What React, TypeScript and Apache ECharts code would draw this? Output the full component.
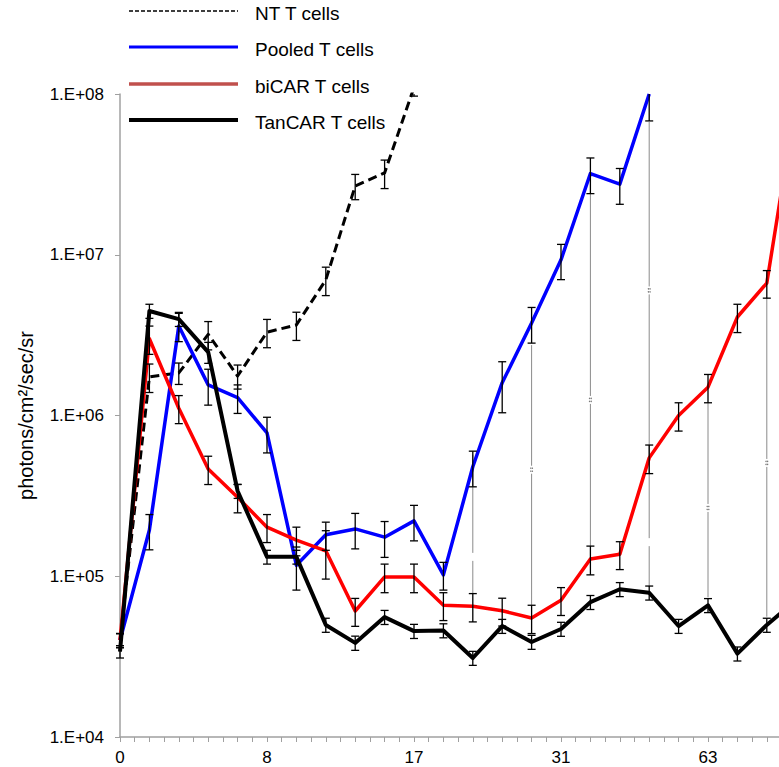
import React, { useEffect, useRef } from 'react';
import * as echarts from 'echarts';

// x positions are measurement indices; only every 5th one carries a day label
const dayLabels = ['0', '8', '17', '31', '63'];

const ntValues = [4.0e4, 1.74e6, 1.84e6, 3.2e6, 1.76e6, 3.3e6, 3.66e6, 6.97e6, 2.68e7, 3.23e7, 1.1e8];
const ntSD = [4e3, 3.5e5, 2.8e5, 6.4e5, 3.0e5, 6.6e5, 7.3e5, 1.4e6, 4.8e6, 6.5e6, 1.3e7];

const pooledValues = [4.0e4, 1.94e5, 3.6e6, 1.55e6, 1.29e6, 7.8e5, 1.17e5, 1.81e5, 1.97e5, 1.75e5, 2.21e5, 1.02e5, 4.8e5, 1.6e6, 3.76e6, 9.3e6, 3.2e7, 2.75e7, 1.0e8];
const pooledSD = [4e3, 4.8e4, 7.2e5, 3.9e5, 2.6e5, 1.95e5, 3.5e4, 3.6e4, 4.9e4, 4.4e4, 5.5e4, 2.0e4, 1.2e5, 5.6e5, 9.4e5, 2.3e6, 8.0e6, 6.9e6, 3.2e7];

const bicarValues = [4.0e4, 3.0e6, 1.11e6, 4.65e5, 3.1e5, 2.02e5, 1.68e5, 1.44e5, 6.08e4, 9.9e4, 9.9e4, 6.6e4, 6.5e4, 6.1e4, 5.5e4, 7.1e4, 1.28e5, 1.37e5, 5.45e5, 1.0e6, 1.5e6, 4.1e6, 6.67e6, 9.3e7];
const bicarSD = [4e3, 6.0e5, 2.2e5, 9.3e4, 6.2e4, 4.0e4, 3.4e4, 4.8e4, 1.2e4, 2.0e4, 2.0e4, 1.3e4, 1.3e4, 1.2e4, 1.1e4, 1.4e4, 2.6e4, 2.7e4, 1.1e5, 2.0e5, 3.0e5, 8.2e5, 1.3e6, 1.9e7];

const tancarValues = [3.4e4, 4.47e6, 3.98e6, 2.48e6, 3.39e5, 1.32e5, 1.32e5, 4.98e4, 3.85e4, 5.57e4, 4.56e4, 4.6e4, 3.1e4, 4.9e4, 3.9e4, 4.7e4, 6.9e4, 8.3e4, 7.9e4, 4.9e4, 6.6e4, 3.3e4, 4.98e4, 7.1e4];
const tancarSD = [3e3, 4.5e5, 4.0e5, 3.7e5, 3.4e4, 1.3e4, 1.3e4, 5e3, 3.9e3, 5.6e3, 4.6e3, 4.6e3, 3.1e3, 4.9e3, 3.9e3, 4.7e3, 6.9e3, 8.3e3, 7.9e3, 4.9e3, 6.6e3, 3.3e3, 5e3, 7e3];

// significance connectors (gray) and their markers
const sigX = [12, 14, 16, 18, 20, 22];
const sigTop = [5.7e5, 2.74e6, 2.42e7, 6.7e7, 1.2e6, 5.4e6];
const sigBottom = [7.8e4, 6.6e4, 1.52e5, 8.6e4, 7.4e4, 5.6e4];
const markX = [12, 14, 16, 18, 18, 20, 22];
const markY = [1.32e5, 4.6e5, 1.25e6, 6.0e6, 1.63e5, 2.66e5, 5.07e5];

const legendItems = ['NT T cells', 'Pooled T cells', 'biCAR T cells', 'TanCAR T cells'];

const FONT = '"Liberation Sans", Arial, sans-serif';

function errSeries(name: string, vals: number[], sds: number[]) {
  return {
    type: 'custom',
    name,
    z: 5,
    silent: true,
    data: vals.map((v, i) => [i, v, sds[i]]),
    encode: { x: 0, y: 1 },
    renderItem: (params: any, api: any) => {
      const x = api.value(0);
      const v = api.value(1);
      const sd = api.value(2);
      const cs = params.coordSys;
      const yMin = cs.y;
      const yMax = cs.y + cs.height;
      const top = api.coord([x, v + sd]);
      const lo = v - sd > 0 ? v - sd : v / 100;
      const bot = api.coord([x, lo]);
      const children: any[] = [];
      const y1 = Math.max(top[1], yMin);
      const y2 = Math.min(bot[1], yMax);
      const st = { stroke: '#000', lineWidth: 1.3 };
      if (y2 > y1) {
        children.push({ type: 'line', shape: { x1: top[0], y1, x2: top[0], y2 }, style: st });
      }
      const hw = 4;
      if (top[1] >= yMin && top[1] <= yMax) {
        children.push({ type: 'line', shape: { x1: top[0] - hw, y1: top[1], x2: top[0] + hw, y2: top[1] }, style: st });
      }
      if (bot[1] >= yMin && bot[1] <= yMax) {
        children.push({ type: 'line', shape: { x1: bot[0] - hw, y1: bot[1], x2: bot[0] + hw, y2: bot[1] }, style: st });
      }
      return { type: 'group', children };
    },
  };
}

function lineSeries(name: string, vals: number[], color: string, width: number, dash?: number[]) {
  return {
    type: 'line',
    name,
    z: 3,
    data: vals.map((v, i) => [i, v]),
    showSymbol: false,
    symbol: 'none',
    lineStyle: { color, width, type: dash ? dash : 'solid', join: 'round' },
    clip: true,
  };
}

export default function App() {
  const ref = useRef<HTMLDivElement>(null);
  useEffect(() => {
    document.body.style.margin = '0';
    document.body.style.overflow = 'hidden';
    const chart = echarts.init(ref.current!, null, { renderer: 'svg' });

    const legendY = [11, 47, 84, 120];
    const legendStyles = [
      { stroke: '#000', lineWidth: 1.5, lineDash: [4, 2] },
      { stroke: '#0000ff', lineWidth: 3 },
      { stroke: '#c0504d', lineWidth: 3.5 },
      { stroke: '#000', lineWidth: 4 },
    ];
    const graphics: any[] = [];
    legendItems.forEach((label, i) => {
      graphics.push({
        type: 'line',
        shape: { x1: 129, y1: legendY[i], x2: 238, y2: legendY[i] },
        style: legendStyles[i],
        z: 10,
      });
      graphics.push({
        type: 'text',
        x: 255,
        y: legendY[i] + 2,
        style: { text: label, fill: '#000', font: `19px ${FONT}`, textVerticalAlign: 'middle' },
        z: 10,
      });
    });

    const option: any = {
      animation: false,
      backgroundColor: '#fff',
      grid: { left: 120, top: 94, bottom: 30, width: 705.6, containLabel: false, outerBoundsMode: 'none' },
      xAxis: {
        type: 'value',
        min: 0,
        max: 24,
        interval: 0.5,
        axisLine: { show: true, lineStyle: { color: '#a0a0a0', width: 1.5 } },
        axisTick: { show: true, length: 5, inside: false, lineStyle: { color: '#a0a0a0', width: 1 } },
        splitLine: { show: false },
        axisLabel: {
          margin: 12,
          color: '#000',
          fontSize: 17,
          fontFamily: FONT,
          showMinLabel: true,
          showMaxLabel: false,
          formatter: (v: number) => {
            const k = Math.round(v / 5);
            if (Math.abs(v - k * 5) < 1e-6 && dayLabels[k] !== undefined) return dayLabels[k];
            return '';
          },
        },
      },
      yAxis: {
        type: 'log',
        logBase: 10,
        min: 1e4,
        max: 1e8,
        name: 'photons/cm²/sec/sr',
        nameLocation: 'middle',
        nameRotate: 90,
        nameGap: 84,
        nameTextStyle: { color: '#000', fontSize: 20, fontFamily: FONT },
        axisLine: { show: true, lineStyle: { color: '#a0a0a0', width: 1.5 } },
        axisTick: { show: true, length: 5, lineStyle: { color: '#a0a0a0', width: 1 } },
        splitLine: { show: false },
        minorTick: { show: false },
        axisLabel: {
          margin: 16,
          color: '#000',
          fontSize: 17,
          fontFamily: FONT,
          formatter: (v: number) => {
            const e = Math.round(Math.log10(v));
            return '1.E+' + String(e).padStart(2, '0');
          },
        },
      },
      graphic: graphics,
      series: [
        {
          type: 'custom',
          name: 'significance',
          z: 2,
          silent: true,
          data: sigX.map((x, i) => [x, sigTop[i], sigBottom[i]]),
          encode: { x: 0, y: [1, 2] },
          renderItem: (params: any, api: any) => {
            const a = api.coord([api.value(0), api.value(1)]);
            const b = api.coord([api.value(0), api.value(2)]);
            return {
              type: 'line',
              shape: { x1: a[0], y1: a[1], x2: b[0], y2: b[1] },
              style: { stroke: '#8a8a8a', lineWidth: 1 },
            };
          },
        },
        {
          type: 'custom',
          name: 'marks',
          z: 2,
          silent: true,
          data: markX.map((x, i) => [x, markY[i]]),
          encode: { x: 0, y: 1 },
          renderItem: (params: any, api: any) => {
            const p = api.coord([api.value(0), api.value(1)]);
            return {
              type: 'group',
              children: [
                { type: 'rect', shape: { x: p[0] - 2, y: p[1] - 4, width: 4, height: 8 }, style: { fill: '#fff' } },
                { type: 'circle', shape: { cx: p[0] - 0.8, cy: p[1] - 1.5, r: 0.7 }, style: { fill: '#777' } },
                { type: 'circle', shape: { cx: p[0] - 0.8, cy: p[1] + 1.5, r: 0.7 }, style: { fill: '#777' } },
                { type: 'circle', shape: { cx: p[0] + 0.8, cy: p[1] - 1.5, r: 0.7 }, style: { fill: '#777' } },
                { type: 'circle', shape: { cx: p[0] + 0.8, cy: p[1] + 1.5, r: 0.7 }, style: { fill: '#777' } },
              ],
            };
          },
        },
        lineSeries('NT T cells', ntValues, '#000', 3, [9, 5]),
        lineSeries('Pooled T cells', pooledValues, '#0000ff', 3.5),
        lineSeries('biCAR T cells', bicarValues, '#ff0000', 3.5),
        lineSeries('TanCAR T cells', tancarValues, '#000', 4),
        errSeries('NT T cells SD', ntValues, ntSD),
        errSeries('Pooled T cells SD', pooledValues, pooledSD),
        errSeries('biCAR T cells SD', bicarValues, bicarSD),
        errSeries('TanCAR T cells SD', tancarValues, tancarSD),
      ],
    };
    chart.setOption(option);
    return () => chart.dispose();
  }, []);
  return <div ref={ref} style={{ width: 779, height: 767 }} />;
}
